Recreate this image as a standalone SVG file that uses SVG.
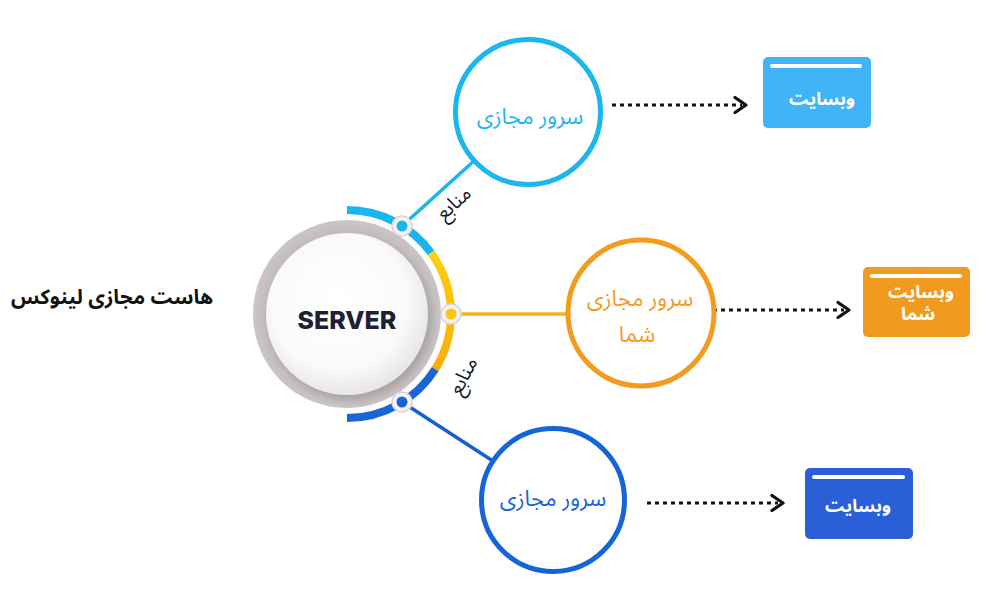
<svg xmlns="http://www.w3.org/2000/svg" width="1000" height="615" viewBox="0 0 1000 615">
<defs>
<style>
.fa{font-family:"Noto Sans Arabic","DejaVu Sans","Noto Sans",sans-serif;text-anchor:middle}
.lbl{font-size:22px}
.box-t{font-size:18px;fill:#ffffff;font-weight:bold}
.dash{fill:none;stroke:#111111;stroke-width:3;stroke-dasharray:4 4}
.chev{fill:none;stroke:#111111;stroke-width:3.2;stroke-linecap:round;stroke-linejoin:round}
.ring{fill:#ffffff;stroke-width:5}
.bar{fill:#ffffff}
</style>
<radialGradient id="inner" cx="0.45" cy="0.42" r="0.6">
<stop offset="0" stop-color="#ffffff"/>
<stop offset="0.7" stop-color="#fafafa"/>
<stop offset="1" stop-color="#e6e4e4"/>
</radialGradient>
<radialGradient id="grey" cx="0.5" cy="0.5" r="0.5">
<stop offset="0.8" stop-color="#bfb8b8"/>
<stop offset="1" stop-color="#cbc5c5"/>
</radialGradient>
<linearGradient id="yel" x1="0" y1="0" x2="0" y2="1">
<stop offset="0" stop-color="#fdd00c"/>
<stop offset="1" stop-color="#f8ad0e"/>
</linearGradient>
<filter id="sh" x="-20%" y="-20%" width="140%" height="140%">
<feDropShadow dx="4" dy="5" stdDeviation="4" flood-color="#7a7070" flood-opacity="0.35"/>
</filter>
</defs>
<rect width="1000" height="615" fill="#ffffff"/>

<g id="connectors">
<line x1="402" y1="226" x2="528" y2="112" stroke="#19b6f0" stroke-width="3.5"/>
<line x1="451" y1="314" x2="641" y2="314" stroke="#f7b21b" stroke-width="3.5"/>
<line x1="402" y1="402" x2="553" y2="500" stroke="#1660d4" stroke-width="3.5"/>
<path class="dash" d="M612 105 H742"/>
<path class="chev" d="M735 97.5 L746 105 L735 112.5"/>
<path class="dash" d="M713 310 H844"/>
<path class="chev" d="M838 302.5 L849 310 L838 317.5"/>
<path class="dash" d="M647 503 H778"/>
<path class="chev" d="M772 495.5 L783 503 L772 510.5"/>
<text class="fa" font-size="20" fill="#1b1b2a" transform="translate(458 208) rotate(-42)">منابع</text>
<text class="fa" font-size="20" fill="#1b1b2a" transform="translate(469 379) rotate(-63)">منابع</text>
</g>

<g id="server">
<path d="M347 210 A104 104 0 0 1 431.1 252.9" fill="none" stroke="#19b5ef" stroke-width="8"/>
<path d="M431.1 252.9 A104 104 0 0 1 435.2 369.1" fill="none" stroke="url(#yel)" stroke-width="8"/>
<path d="M435.2 369.1 A104 104 0 0 1 347 418" fill="none" stroke="#1866d6" stroke-width="8"/>
<circle cx="347" cy="314" r="94" fill="url(#grey)"/>
<circle cx="347" cy="314" r="81" fill="url(#inner)" filter="url(#sh)"/>
<text x="347" y="329" font-family="Inter,Roboto,'Liberation Sans',sans-serif" font-weight="800" font-size="25" fill="#1f2033" text-anchor="middle">SERVER</text>
<circle cx="402" cy="226" r="10" fill="#f4f2f2" stroke="#d9d4d4" stroke-width="1.5"/>
<circle cx="402" cy="226" r="5.5" fill="#19b5ef"/>
<circle cx="451" cy="314" r="10" fill="#f4f2f2" stroke="#d9d4d4" stroke-width="1.5"/>
<circle cx="451" cy="314" r="5.5" fill="#fcc60c"/>
<circle cx="402" cy="402" r="10" fill="#f4f2f2" stroke="#d9d4d4" stroke-width="1.5"/>
<circle cx="402" cy="402" r="5.5" fill="#1866d6"/>
</g>

<g id="title">
<text class="fa" x="112" y="304" font-size="20.5" font-weight="bold" fill="#111111">هاست مجازی لینوکس</text>
</g>

<g id="vps1">
<circle class="ring" cx="528" cy="112" r="72.5" stroke="#19b6f0"/>
<text class="fa lbl" x="530" y="124" fill="#19b6f0">سرور مجازی</text>
</g>

<g id="vps2">
<circle class="ring" cx="641" cy="313" r="73" stroke="#f39b1e"/>
<text class="fa lbl" fill="#f39b1e"><tspan x="640" y="306">سرور مجازی</tspan><tspan x="637" y="342">شما</tspan></text>
</g>

<g id="vps3">
<circle class="ring" cx="553" cy="500" r="71.5" stroke="#1565d8"/>
<text class="fa lbl" x="553" y="506" fill="#1565d8">سرور مجازی</text>
</g>

<g id="site1">
<rect x="763" y="57" width="108" height="71" rx="5" fill="#3fb4f6"/>
<rect class="bar" x="770" y="64" width="92" height="4" rx="2"/>
<text class="fa box-t" x="822" y="105">وبسایت</text>
</g>

<g id="site2">
<rect x="863" y="267" width="107" height="70" rx="5" fill="#f19a20"/>
<rect class="bar" x="870" y="274" width="92" height="4" rx="2"/>
<text class="fa box-t" font-size="17"><tspan x="921" y="298">وبسایت</tspan><tspan x="918" y="320">شما</tspan></text>
</g>

<g id="site3">
<rect x="805" y="468" width="108" height="71" rx="5" fill="#2b5fd8"/>
<rect class="bar" x="812" y="475" width="93" height="4" rx="2"/>
<text class="fa box-t" x="858" y="512">وبسایت</text>
</g>
</svg>
